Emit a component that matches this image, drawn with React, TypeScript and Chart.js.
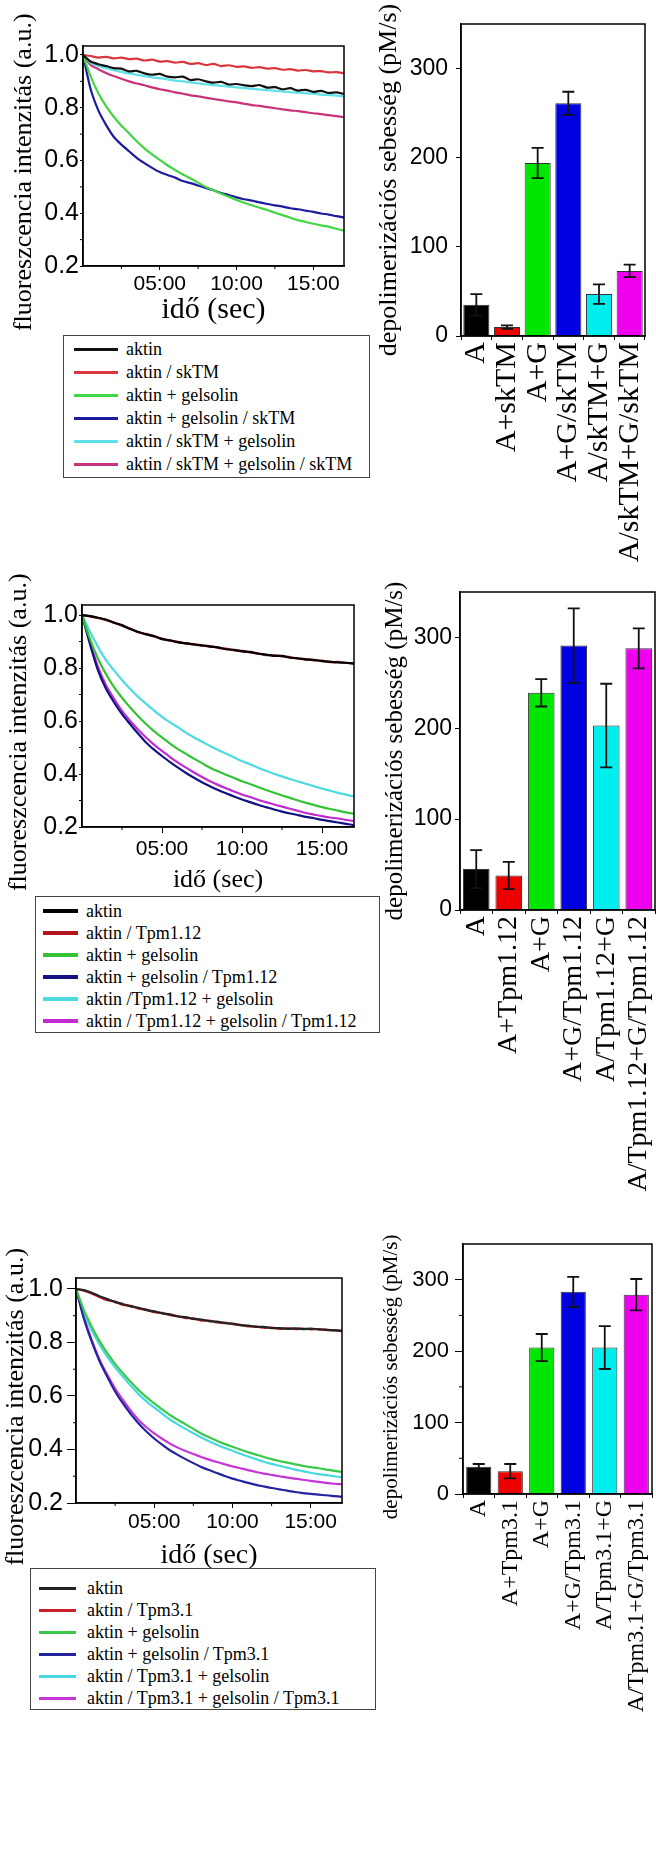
import React, { useEffect, useRef } from 'react';
import Chart from 'chart.js/auto';

const SANS = '"Liberation Sans", Arial, sans-serif';
const SERIF = '"Liberation Serif", "Times New Roman", serif';

// ---------- shared axis data ----------
const TIME = [0, 0.5, 1, 1.5, 2, 2.5, 3, 3.5, 4, 4.5, 5, 5.5, 6, 6.5, 7, 7.5, 8, 8.5, 9, 9.5, 10, 10.5, 11, 11.5, 12, 12.5, 13, 13.5, 14, 14.5, 15, 15.5, 16, 16.5, 17];
const X_TICKS = [5, 10, 15];
const X_TICK_LABELS = ['05:00', '10:00', '15:00'];
const X_MINOR = [2.5, 7.5, 12.5];
const Y_TICKS = [0.2, 0.4, 0.6, 0.8, 1.0];
const Y_MINOR = [0.3, 0.5, 0.7, 0.9];
const BAR_TICKS = [0, 100, 200, 300];
const BAR_MINOR3 = [50, 150, 250];
const LINE_Y_TITLE = 'fluoreszcencia intenzitás (a.u.)';
const LINE_X_TITLE = 'idő (sec)';
const BAR_Y_TITLE = 'depolimerizációs sebesség (pM/s)';

// ---------- row 1 (skTM) ----------
const R1_LABELS = ['aktin', 'aktin / skTM', 'aktin + gelsolin', 'aktin + gelsolin / skTM', 'aktin / skTM + gelsolin', 'aktin / skTM + gelsolin / skTM'];
const R1_COLORS = ['#111111', '#d9363e', '#44d444', '#1c1c9c', '#5ee0e8', '#c8327a'];
const R1_BLACK = [1.0, 0.975, 0.965, 0.958, 0.95, 0.948, 0.938, 0.94, 0.93, 0.925, 0.928, 0.918, 0.915, 0.918, 0.905, 0.908, 0.9, 0.895, 0.898, 0.888, 0.89, 0.885, 0.882, 0.886, 0.876, 0.878, 0.87, 0.874, 0.865, 0.868, 0.86, 0.864, 0.856, 0.858, 0.852];
const R1_RED = [1.0, 0.996, 0.99, 0.993, 0.987, 0.99, 0.984, 0.986, 0.979, 0.982, 0.975, 0.977, 0.971, 0.974, 0.966, 0.969, 0.962, 0.966, 0.958, 0.961, 0.955, 0.957, 0.951, 0.954, 0.948, 0.95, 0.944, 0.946, 0.941, 0.943, 0.938, 0.939, 0.934, 0.935, 0.931];
const R1_GREEN = [1.0, 0.918, 0.855, 0.806, 0.766, 0.732, 0.703, 0.673, 0.646, 0.623, 0.602, 0.582, 0.564, 0.547, 0.532, 0.516, 0.5, 0.487, 0.474, 0.462, 0.45, 0.44, 0.43, 0.421, 0.412, 0.402, 0.393, 0.383, 0.374, 0.367, 0.36, 0.354, 0.349, 0.341, 0.334];
const R1_BLUE = [1.0, 0.87, 0.79, 0.735, 0.69, 0.66, 0.635, 0.61, 0.59, 0.572, 0.556, 0.545, 0.535, 0.522, 0.514, 0.505, 0.496, 0.487, 0.477, 0.469, 0.46, 0.453, 0.448, 0.441, 0.435, 0.43, 0.425, 0.419, 0.415, 0.41, 0.405, 0.399, 0.395, 0.389, 0.384];
const R1_CYAN = [1.0, 0.97, 0.958, 0.95, 0.942, 0.936, 0.93, 0.925, 0.92, 0.915, 0.912, 0.907, 0.903, 0.9, 0.896, 0.892, 0.889, 0.886, 0.883, 0.88, 0.877, 0.874, 0.872, 0.869, 0.867, 0.864, 0.862, 0.859, 0.857, 0.855, 0.853, 0.85, 0.848, 0.846, 0.843];
const R1_MAGENTA = [1.0, 0.962, 0.946, 0.932, 0.92, 0.91, 0.9, 0.892, 0.885, 0.877, 0.87, 0.865, 0.858, 0.853, 0.847, 0.843, 0.838, 0.833, 0.829, 0.824, 0.82, 0.815, 0.81, 0.807, 0.802, 0.798, 0.794, 0.79, 0.787, 0.783, 0.779, 0.776, 0.772, 0.768, 0.764];
const R1_CATS = ['A', 'A+skTM', 'A+G', 'A+G/skTM', 'A/skTM+G', 'A/skTM+G/skTM'];
const R1_RATES = [35, 10, 194, 261, 47, 73];
const R1_ERRS = [12, 2, 17, 13, 11, 7];

// ---------- row 2 (Tpm1.12) ----------
const R2_LABELS = ['aktin', 'aktin / Tpm1.12', 'aktin + gelsolin', 'aktin + gelsolin / Tpm1.12', 'aktin /Tpm1.12 + gelsolin', 'aktin / Tpm1.12 + gelsolin / Tpm1.12'];
const R2_COLORS = ['#000000', '#b3141b', '#35c335', '#121280', '#4fd9e0', '#c02ad0'];
const R2_BLACK = [1.0, 0.996, 0.99, 0.983, 0.971, 0.962, 0.947, 0.937, 0.927, 0.921, 0.909, 0.905, 0.897, 0.894, 0.889, 0.886, 0.881, 0.878, 0.871, 0.869, 0.863, 0.861, 0.854, 0.851, 0.846, 0.846, 0.839, 0.837, 0.832, 0.831, 0.826, 0.824, 0.821, 0.82, 0.817];
const R2_RED = [1.0, 0.995, 0.989, 0.981, 0.972, 0.96, 0.949, 0.935, 0.929, 0.919, 0.911, 0.903, 0.899, 0.892, 0.89, 0.884, 0.883, 0.876, 0.873, 0.867, 0.865, 0.859, 0.856, 0.849, 0.848, 0.844, 0.841, 0.835, 0.834, 0.829, 0.828, 0.822, 0.823, 0.819, 0.818];
const R2_GREEN = [1.0, 0.91, 0.835, 0.777, 0.728, 0.688, 0.652, 0.619, 0.589, 0.562, 0.538, 0.515, 0.494, 0.476, 0.458, 0.441, 0.424, 0.41, 0.397, 0.385, 0.373, 0.362, 0.351, 0.34, 0.329, 0.319, 0.31, 0.3, 0.291, 0.283, 0.275, 0.268, 0.262, 0.255, 0.25];
const R2_BLUE = [1.0, 0.89, 0.791, 0.722, 0.671, 0.626, 0.589, 0.553, 0.519, 0.492, 0.468, 0.445, 0.424, 0.404, 0.386, 0.369, 0.354, 0.34, 0.327, 0.315, 0.304, 0.294, 0.284, 0.275, 0.266, 0.258, 0.251, 0.245, 0.238, 0.233, 0.227, 0.222, 0.217, 0.212, 0.207];
const R2_CYAN = [1.0, 0.937, 0.88, 0.83, 0.791, 0.755, 0.722, 0.692, 0.665, 0.64, 0.616, 0.595, 0.576, 0.556, 0.538, 0.522, 0.506, 0.491, 0.477, 0.463, 0.449, 0.437, 0.424, 0.412, 0.401, 0.391, 0.381, 0.372, 0.363, 0.354, 0.345, 0.337, 0.329, 0.322, 0.315];
const R2_MAGENTA = [1.0, 0.9, 0.804, 0.735, 0.684, 0.638, 0.601, 0.568, 0.538, 0.511, 0.487, 0.464, 0.443, 0.424, 0.406, 0.389, 0.373, 0.359, 0.346, 0.334, 0.323, 0.313, 0.303, 0.294, 0.285, 0.277, 0.269, 0.261, 0.253, 0.247, 0.241, 0.236, 0.232, 0.227, 0.222];
const R2_CATS = ['A', 'A+Tpm1.12', 'A+G', 'A+G/Tpm1.12', 'A/Tpm1.12+G', 'A/Tpm1.12+G/Tpm1.12'];
const R2_RATES = [45, 38, 239, 291, 203, 288];
const R2_ERRS = [21, 15, 15, 41, 46, 22];

// ---------- row 3 (Tpm3.1) ----------
const R3_LABELS = ['aktin', 'aktin / Tpm3.1', 'aktin + gelsolin', 'aktin + gelsolin / Tpm3.1', 'aktin / Tpm3.1 + gelsolin', 'aktin / Tpm3.1 + gelsolin / Tpm3.1'];
const R3_COLORS = ['#222222', '#cc1f28', '#3cc84a', '#2424a0', '#48d8e0', '#c636d6'];
const R3_BLACK = [1.0, 0.996, 0.986, 0.973, 0.962, 0.951, 0.944, 0.935, 0.93, 0.921, 0.916, 0.909, 0.905, 0.897, 0.895, 0.888, 0.886, 0.88, 0.878, 0.872, 0.871, 0.865, 0.863, 0.858, 0.858, 0.854, 0.854, 0.851, 0.853, 0.85, 0.852, 0.849, 0.848, 0.845, 0.844];
const R3_RED = [1.0, 0.994, 0.983, 0.97, 0.958, 0.953, 0.94, 0.937, 0.926, 0.923, 0.913, 0.911, 0.902, 0.899, 0.891, 0.89, 0.882, 0.882, 0.875, 0.874, 0.868, 0.866, 0.86, 0.86, 0.855, 0.856, 0.851, 0.853, 0.85, 0.852, 0.849, 0.85, 0.846, 0.846, 0.842];
const R3_GREEN = [1.0, 0.922, 0.86, 0.806, 0.76, 0.72, 0.685, 0.652, 0.622, 0.596, 0.572, 0.55, 0.529, 0.511, 0.494, 0.477, 0.46, 0.446, 0.433, 0.421, 0.41, 0.4, 0.39, 0.381, 0.372, 0.364, 0.357, 0.351, 0.345, 0.339, 0.334, 0.33, 0.325, 0.32, 0.316];
const R3_BLUE = [1.0, 0.89, 0.804, 0.731, 0.672, 0.617, 0.572, 0.532, 0.497, 0.467, 0.441, 0.418, 0.397, 0.38, 0.364, 0.349, 0.335, 0.323, 0.312, 0.301, 0.291, 0.283, 0.275, 0.268, 0.262, 0.256, 0.251, 0.246, 0.241, 0.237, 0.234, 0.231, 0.229, 0.226, 0.223];
const R3_CYAN = [1.0, 0.912, 0.847, 0.793, 0.747, 0.707, 0.672, 0.638, 0.607, 0.58, 0.557, 0.534, 0.512, 0.494, 0.477, 0.461, 0.445, 0.431, 0.418, 0.406, 0.395, 0.384, 0.374, 0.364, 0.354, 0.346, 0.339, 0.332, 0.325, 0.319, 0.313, 0.308, 0.304, 0.3, 0.296];
const R3_MAGENTA = [1.0, 0.897, 0.81, 0.737, 0.679, 0.628, 0.585, 0.545, 0.51, 0.483, 0.46, 0.44, 0.422, 0.407, 0.394, 0.383, 0.372, 0.362, 0.353, 0.345, 0.337, 0.33, 0.323, 0.316, 0.31, 0.305, 0.3, 0.295, 0.291, 0.287, 0.283, 0.279, 0.275, 0.272, 0.27];
const R3_CATS = ['A', 'A+Tpm3.1', 'A+G', 'A+G/Tpm3.1', 'A/Tpm3.1+G', 'A/Tpm3.1+G/Tpm3.1'];
const R3_RATES = [38, 32, 205, 283, 205, 279];
const R3_ERRS = [4, 10, 19, 21, 30, 22];

const BAR_COLORS = ['#000000', '#ee0000', '#00e600', '#0000e0', '#00eeee', '#ee00ee'];

// ---------- plugins ----------
const framePlugin = {
  id: 'frame',
  afterDraw(chart: any) {
    const { ctx, chartArea: a } = chart;
    ctx.save();
    ctx.strokeStyle = '#000';
    ctx.lineWidth = 1.5;
    ctx.strokeRect(a.left, a.top, a.right - a.left, a.bottom - a.top);
    ctx.restore();
  },
};

const minorTickPlugin = {
  id: 'minorTicks',
  afterDraw(chart: any, _args: any, opts: any) {
    if (!opts) return;
    const { ctx, chartArea: a, scales } = chart;
    const len = opts.len || 3;
    ctx.save();
    ctx.strokeStyle = '#000';
    ctx.lineWidth = 1;
    (opts.x || []).forEach((v: number) => {
      const px = scales.x.getPixelForValue(v);
      ctx.beginPath();
      ctx.moveTo(px, a.bottom);
      ctx.lineTo(px, a.bottom + len);
      ctx.stroke();
    });
    (opts.y || []).forEach((v: number) => {
      const py = scales.y.getPixelForValue(v);
      ctx.beginPath();
      ctx.moveTo(a.left, py);
      ctx.lineTo(a.left - len, py);
      ctx.stroke();
    });
    ctx.restore();
  },
};

const errorBarPlugin = {
  id: 'errbars',
  afterDatasetsDraw(chart: any, _args: any, opts: any) {
    if (!opts || !opts.errors) return;
    const { ctx } = chart;
    const y = chart.scales.y;
    const meta = chart.getDatasetMeta(0);
    const vals = chart.data.datasets[0].data;
    const cap = opts.cap || 5;
    ctx.save();
    ctx.strokeStyle = '#111';
    ctx.lineWidth = 1.8;
    meta.data.forEach((bar: any, i: number) => {
      const v = vals[i];
      const e = opts.errors[i];
      const yt = y.getPixelForValue(v + e);
      const yb = y.getPixelForValue(v - e);
      ctx.beginPath();
      ctx.moveTo(bar.x, yt);
      ctx.lineTo(bar.x, yb);
      ctx.moveTo(bar.x - cap, yt);
      ctx.lineTo(bar.x + cap, yt);
      ctx.moveTo(bar.x - cap, yb);
      ctx.lineTo(bar.x + cap, yb);
      ctx.stroke();
    });
    ctx.restore();
  },
};

// trailing non-breaking spaces shift a rotated, centred title toward the plot bottom
const shifted = (text: string, n: number) => text + '\u00A0'.repeat(n);

// ---------- config builders ----------
type LineLayout = {
  padTop: number; padRight: number; yW: number; xH: number; yMax: number;
  yTitlePad: number; xTitleSize: number; xTitlePad: number;
  yTick: number; yPad: number; xTick: number; xPad: number;
};

function lineConfig(series: number[][], colors: string[], labels: string[], p: LineLayout) {
  return {
    type: 'line',
    data: {
      datasets: series.map((s, k) => ({
        label: labels[k],
        data: TIME.map((t, i) => ({ x: t, y: s[i] })),
        borderColor: colors[k],
        borderWidth: 2.2,
        pointRadius: 0,
        tension: 0.25,
        fill: false,
      })),
    },
    options: {
      animation: false,
      responsive: false,
      events: [],
      layout: { padding: { top: p.padTop, right: p.padRight, left: 0, bottom: 0 } },
      plugins: {
        legend: { display: false },
        tooltip: { enabled: false },
        minorTicks: { x: X_MINOR, y: Y_MINOR, len: 3 },
      },
      scales: {
        x: {
          type: 'linear',
          min: 0,
          max: 17,
          afterBuildTicks: (s: any) => { s.ticks = X_TICKS.map((v) => ({ value: v })); },
          ticks: {
            callback: (v: any) => X_TICK_LABELS[X_TICKS.indexOf(Number(v))] ?? '',
            font: { family: SANS, size: 21 },
            color: '#000',
            padding: p.xPad,
            maxRotation: 0,
            autoSkip: false,
          },
          grid: { display: true, drawOnChartArea: false, tickLength: p.xTick, color: '#000' },
          border: { color: '#000', width: 1.5 },
          title: { display: true, text: LINE_X_TITLE, font: { family: SERIF, size: p.xTitleSize }, color: '#000', padding: { top: 0, bottom: p.xTitlePad } },
          afterFit: (s: any) => { s.height = p.xH; s.paddingLeft = 0; s.paddingRight = 0; },
        },
        y: {
          type: 'linear',
          min: 0.2,
          max: p.yMax,
          afterBuildTicks: (s: any) => { s.ticks = Y_TICKS.map((v) => ({ value: v })); },
          ticks: {
            callback: (v: any) => Number(v).toFixed(1),
            font: { family: SANS, size: 25 },
            color: '#000',
            padding: p.yPad,
            autoSkip: false,
          },
          grid: { display: true, drawOnChartArea: false, tickLength: p.yTick, color: '#000' },
          border: { color: '#000', width: 1.5 },
          title: { display: true, text: shifted(LINE_Y_TITLE, 5), font: { family: SERIF, size: 26 }, color: '#000', padding: { top: p.yTitlePad, bottom: 0 } },
          afterFit: (s: any) => { s.width = p.yW; s.paddingTop = 0; s.paddingBottom = 0; },
        },
      },
    },
    plugins: [framePlugin, minorTickPlugin],
  };
}

type BarLayout = {
  padTop: number; padRight: number; yW: number; xH: number; yTitlePad: number; yTitleSize: number; yTitleShift: number;
  labelSize: number; barPct: number; cap: number; yTick: number; yPad: number; tickSize: number; minor?: number[];
};

function barConfig(cats: string[], vals: number[], errs: number[], p: BarLayout) {
  return {
    type: 'bar',
    data: {
      labels: cats,
      datasets: [{
        data: vals,
        backgroundColor: BAR_COLORS,
        borderColor: '#333',
        borderWidth: 1,
        barPercentage: p.barPct,
        categoryPercentage: 1,
      }],
    },
    options: {
      animation: false,
      responsive: false,
      events: [],
      layout: { padding: { top: p.padTop, right: p.padRight, left: 0, bottom: 0 } },
      plugins: {
        legend: { display: false },
        tooltip: { enabled: false },
        errbars: { errors: errs, cap: p.cap },
        minorTicks: { x: [], y: p.minor || [], len: 4 },
      },
      scales: {
        x: {
          ticks: {
            font: { family: SERIF, size: p.labelSize },
            color: '#000',
            minRotation: 90,
            maxRotation: 90,
            autoSkip: false,
            padding: 2,
          },
          grid: { display: true, drawOnChartArea: false, tickLength: 4, color: '#000' },
          border: { color: '#000', width: 1.5 },
          afterFit: (s: any) => { s.height = p.xH; s.paddingLeft = 0; s.paddingRight = 0; },
        },
        y: {
          min: 0,
          max: 350,
          afterBuildTicks: (s: any) => { s.ticks = BAR_TICKS.map((v) => ({ value: v })); },
          ticks: {
            font: { family: SANS, size: p.tickSize },
            color: '#000',
            padding: p.yPad,
            autoSkip: false,
          },
          grid: { display: true, drawOnChartArea: false, tickLength: p.yTick, color: '#000' },
          border: { color: '#000', width: 1.5 },
          title: { display: true, text: shifted(BAR_Y_TITLE, p.yTitleShift), font: { family: SERIF, size: p.yTitleSize }, color: '#000', padding: { top: p.yTitlePad, bottom: 0 } },
          afterFit: (s: any) => { s.width = p.yW; s.paddingTop = 0; s.paddingBottom = 0; },
        },
      },
    },
    plugins: [framePlugin, errorBarPlugin, minorTickPlugin],
  };
}

// ---------- components ----------
type Box = { left: number; top: number; width: number; height: number };

function ChartCanvas({ box, make }: { box: Box; make: () => any }) {
  const ref = useRef<HTMLCanvasElement>(null);
  useEffect(() => {
    const chart = new Chart(ref.current as HTMLCanvasElement, make());
    return () => chart.destroy();
  }, []);
  return (
    <canvas
      ref={ref}
      width={box.width}
      height={box.height}
      style={{ position: 'absolute', left: box.left, top: box.top, width: box.width, height: box.height }}
    />
  );
}

type LegendLayout = { box: Box; first: number; step: number; swX: number; swW: number; swH: number; textX: number };

function Legend({ labels, colors, l }: { labels: string[]; colors: string[]; l: LegendLayout }) {
  return (
    <div
      style={{
        position: 'absolute', left: l.box.left, top: l.box.top, width: l.box.width, height: l.box.height,
        border: '1.5px solid #444', boxSizing: 'border-box', background: '#fff',
      }}
    >
      {labels.map((lab, i) => {
        const cy = l.first + i * l.step;
        return (
          <React.Fragment key={i}>
            <div style={{ position: 'absolute', left: l.swX, top: cy - l.swH / 2, width: l.swW, height: l.swH, background: colors[i] }} />
            <div
              style={{
                position: 'absolute', left: l.textX, top: cy - 11, height: 22, lineHeight: '22px',
                fontFamily: SERIF, fontSize: 18, color: '#000', whiteSpace: 'nowrap',
              }}
            >
              {lab}
            </div>
          </React.Fragment>
        );
      })}
    </div>
  );
}

export default function App() {
  return (
    <div style={{ position: 'absolute', left: 0, top: 0, width: 656, height: 1857, background: '#fff', overflow: 'hidden' }}>
      {/* Row 1 */}
      <ChartCanvas
        box={{ left: 0, top: 0, width: 356, height: 330 }}
        make={() => lineConfig(
          [R1_BLACK, R1_RED, R1_GREEN, R1_BLUE, R1_CYAN, R1_MAGENTA], R1_COLORS, R1_LABELS,
          { padTop: 46, padRight: 12, yW: 83, xH: 64, yMax: 1.034, yTitlePad: 9, xTitleSize: 30, xTitlePad: 2, yTick: 3, yPad: 1, xTick: 4, xPad: 2 },
        )}
      />
      <ChartCanvas
        box={{ left: 356, top: 0, width: 300, height: 590 }}
        make={() => barConfig(R1_CATS, R1_RATES, R1_ERRS,
          { padTop: 24, padRight: 11, yW: 105, xH: 254, yTitlePad: 18, yTitleSize: 26, yTitleShift: 0, labelSize: 30, barPct: 0.85, cap: 6, yTick: 5, yPad: 8, tickSize: 23 })}
      />
      <Legend labels={R1_LABELS} colors={R1_COLORS}
        l={{ box: { left: 63, top: 335, width: 307, height: 143 }, first: 13, step: 23, swX: 10, swW: 44, swH: 3, textX: 62 }} />

      {/* Row 2 */}
      <ChartCanvas
        box={{ left: 0, top: 560, width: 366, height: 340 }}
        make={() => lineConfig(
          [R2_BLACK, R2_RED, R2_GREEN, R2_BLUE, R2_CYAN, R2_MAGENTA], R2_COLORS, R2_LABELS,
          { padTop: 45, padRight: 12, yW: 82, xH: 73, yMax: 1.038, yTitlePad: 4, xTitleSize: 26, xTitlePad: 4, yTick: 3, yPad: 1, xTick: 6, xPad: 4 },
        )}
      />
      <ChartCanvas
        box={{ left: 366, top: 560, width: 290, height: 680 }}
        make={() => barConfig(R2_CATS, R2_RATES, R2_ERRS,
          { padTop: 32, padRight: 1, yW: 94, xH: 330, yTitlePad: 14, yTitleSize: 25, yTitleShift: 0, labelSize: 28, barPct: 0.82, cap: 6, yTick: 5, yPad: 3, tickSize: 23 })}
      />
      <Legend labels={R2_LABELS} colors={R2_COLORS}
        l={{ box: { left: 35, top: 896, width: 345, height: 137 }, first: 14, step: 22, swX: 7, swW: 35, swH: 4, textX: 50 }} />

      {/* Row 3 */}
      <ChartCanvas
        box={{ left: 0, top: 1230, width: 356, height: 345 }}
        make={() => lineConfig(
          [R3_BLACK, R3_RED, R3_GREEN, R3_BLUE, R3_CYAN, R3_MAGENTA], R3_COLORS, R3_LABELS,
          { padTop: 48, padRight: 14, yW: 76, xH: 72, yMax: 1.041, yTitlePad: 1, xTitleSize: 28, xTitlePad: 3, yTick: 9, yPad: 4, xTick: 5, xPad: 2 },
        )}
      />
      <ChartCanvas
        box={{ left: 356, top: 1230, width: 300, height: 520 }}
        make={() => barConfig(R3_CATS, R3_RATES, R3_ERRS,
          { padTop: 14, padRight: 4, yW: 107, xH: 256, yTitlePad: 23, yTitleSize: 21, yTitleShift: 3, labelSize: 24, barPct: 0.8, cap: 6, yTick: 8, yPad: 6, tickSize: 22, minor: BAR_MINOR3 })}
      />
      <Legend labels={R3_LABELS} colors={R3_COLORS}
        l={{ box: { left: 30, top: 1568, width: 346, height: 142 }, first: 19, step: 22, swX: 8, swW: 37, swH: 3, textX: 56 }} />
    </div>
  );
}
